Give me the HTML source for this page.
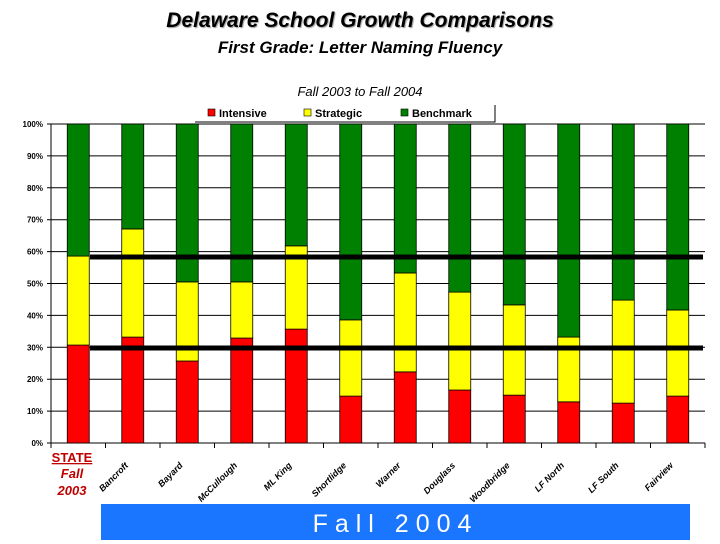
<!DOCTYPE html>
<html><head><meta charset="utf-8"><style>
body{margin:0;width:720px;height:540px;background:#fff;overflow:hidden;position:relative;font-family:"Liberation Sans",sans-serif}
.t{position:absolute;left:0;width:720px;text-align:center;font-style:italic}
</style></head><body>
<div class="t" style="top:9px;font-size:21px;font-weight:bold;text-shadow:1px 1px 1px #999">Delaware School Growth Comparisons</div>
<div class="t" style="top:38px;font-size:17px;font-weight:bold">First Grade: Letter Naming Fluency</div>
<div class="t" style="top:84px;font-size:13px">Fall 2003 to Fall 2004</div>
<svg id="c" width="720" height="540" style="position:absolute;left:0;top:0"></svg>
<div style="position:absolute;left:101px;top:504px;width:589px;height:36px;background:#1a75ff;color:#fff;font-size:25px;text-align:center;line-height:40px;letter-spacing:7px">Fall 2004</div>
<script>
const categories=["STATE","Bancroft","Bayard","McCullough","ML King","Shortlidge","Warner","Douglass","Woodbridge","LF North","LF South","Fairview"];
const intensive=[30.7,33.2,25.7,32.9,35.7,14.7,22.3,16.6,15,12.9,12.5,14.7];
const strategic=[27.9,33.9,24.8,17.6,26.1,23.9,31,30.7,28.3,20.3,32.3,27];
const refLines=[58.3,29.8];
const yTicks=[0,10,20,30,40,50,60,70,80,90,100];
const NS="http://www.w3.org/2000/svg",svg=document.getElementById('c');
const X0=51,X1=705,Y0=443,Y1=124,cw=(X1-X0)/categories.length,bw=22;
const y=v=>Y0-(Y0-Y1)*v/100, xc=i=>X0+cw*(i+0.5);
function mk(t,a){const e=document.createElementNS(NS,t);for(const k in a)e.setAttribute(k,a[k]);svg.appendChild(e);return e;}
yTicks.forEach(v=>{
 const l=mk('line',{x1:X0-4,x2:X1,y1:y(v),y2:y(v),stroke:'#000','stroke-width':1});
 
 
 const t=mk('text',{x:X0-8,y:y(v)+3,'text-anchor':'end','font-size':8,'font-weight':'bold','font-family':'Liberation Sans'});
 t.textContent=v+'%';
 
 
});
const ax=mk('line',{x1:X0,x2:X0,y1:Y1,y2:Y0,stroke:'#000'});


for(let i=0;i<=categories.length;i++){
 const tk=mk('line',{x1:X0+cw*i,x2:X0+cw*i,y1:Y0,y2:Y0+5,stroke:'#000'});
 
 
}
categories.forEach((c,i)=>{
 const a=intensive[i],b=strategic[i];
 [[0,a,'#ff0000','intensive'],[a,a+b,'#ffff00','strategic'],[a+b,100,'#008000','benchmark']].forEach(s=>{
  const r=mk('rect',{x:xc(i)-bw/2,y:y(s[1]),width:bw,height:y(s[0])-y(s[1]),fill:s[2],stroke:'#000','stroke-width':0.8});
  
  
 });
 if(i>0){
  const ax_=xc(i)-4, ay_=Y0+23;
  const t=mk('text',{x:ax_,y:ay_,'text-anchor':'end','font-size':9,'font-weight':'bold','font-style':'italic','font-family':'Liberation Sans',transform:`rotate(-45 ${ax_} ${ay_})`});
  t.textContent=c;
  
  
 }
});
refLines.forEach(v=>{
 const l=mk('line',{x1:90,x2:703,y1:y(v),y2:y(v),stroke:'#000','stroke-width':5});
 
 
});
const st=[["STATE",462,true],["Fall",478,false],["2003",495,false]];
st.forEach(s=>{
 const t=mk('text',{x:72,y:s[1],'text-anchor':'middle','font-size':13,'font-weight':'bold','font-style':s[2]?'normal':'italic',fill:'#c00000','font-family':'Liberation Sans','text-decoration':s[2]?'underline':'none'});
 t.textContent=s[0];
 
 
});
const lg=[["Intensive",'#ff0000',208],["Strategic",'#ffff00',304],["Benchmark",'#008000',401]];
const lb=mk('polyline',{points:'195,122 495,122 495,105',fill:'none',stroke:'#000','stroke-width':1});


lg.forEach(l=>{
 const r=mk('rect',{x:l[2],y:109,width:7,height:7,fill:l[1],stroke:'#000','stroke-width':0.6});
 
 
 const t=mk('text',{x:l[2]+11,y:117,'font-size':11,'font-weight':'bold','font-family':'Liberation Sans'});
 t.textContent=l[0];
 
 
});
</script>
</body></html>
